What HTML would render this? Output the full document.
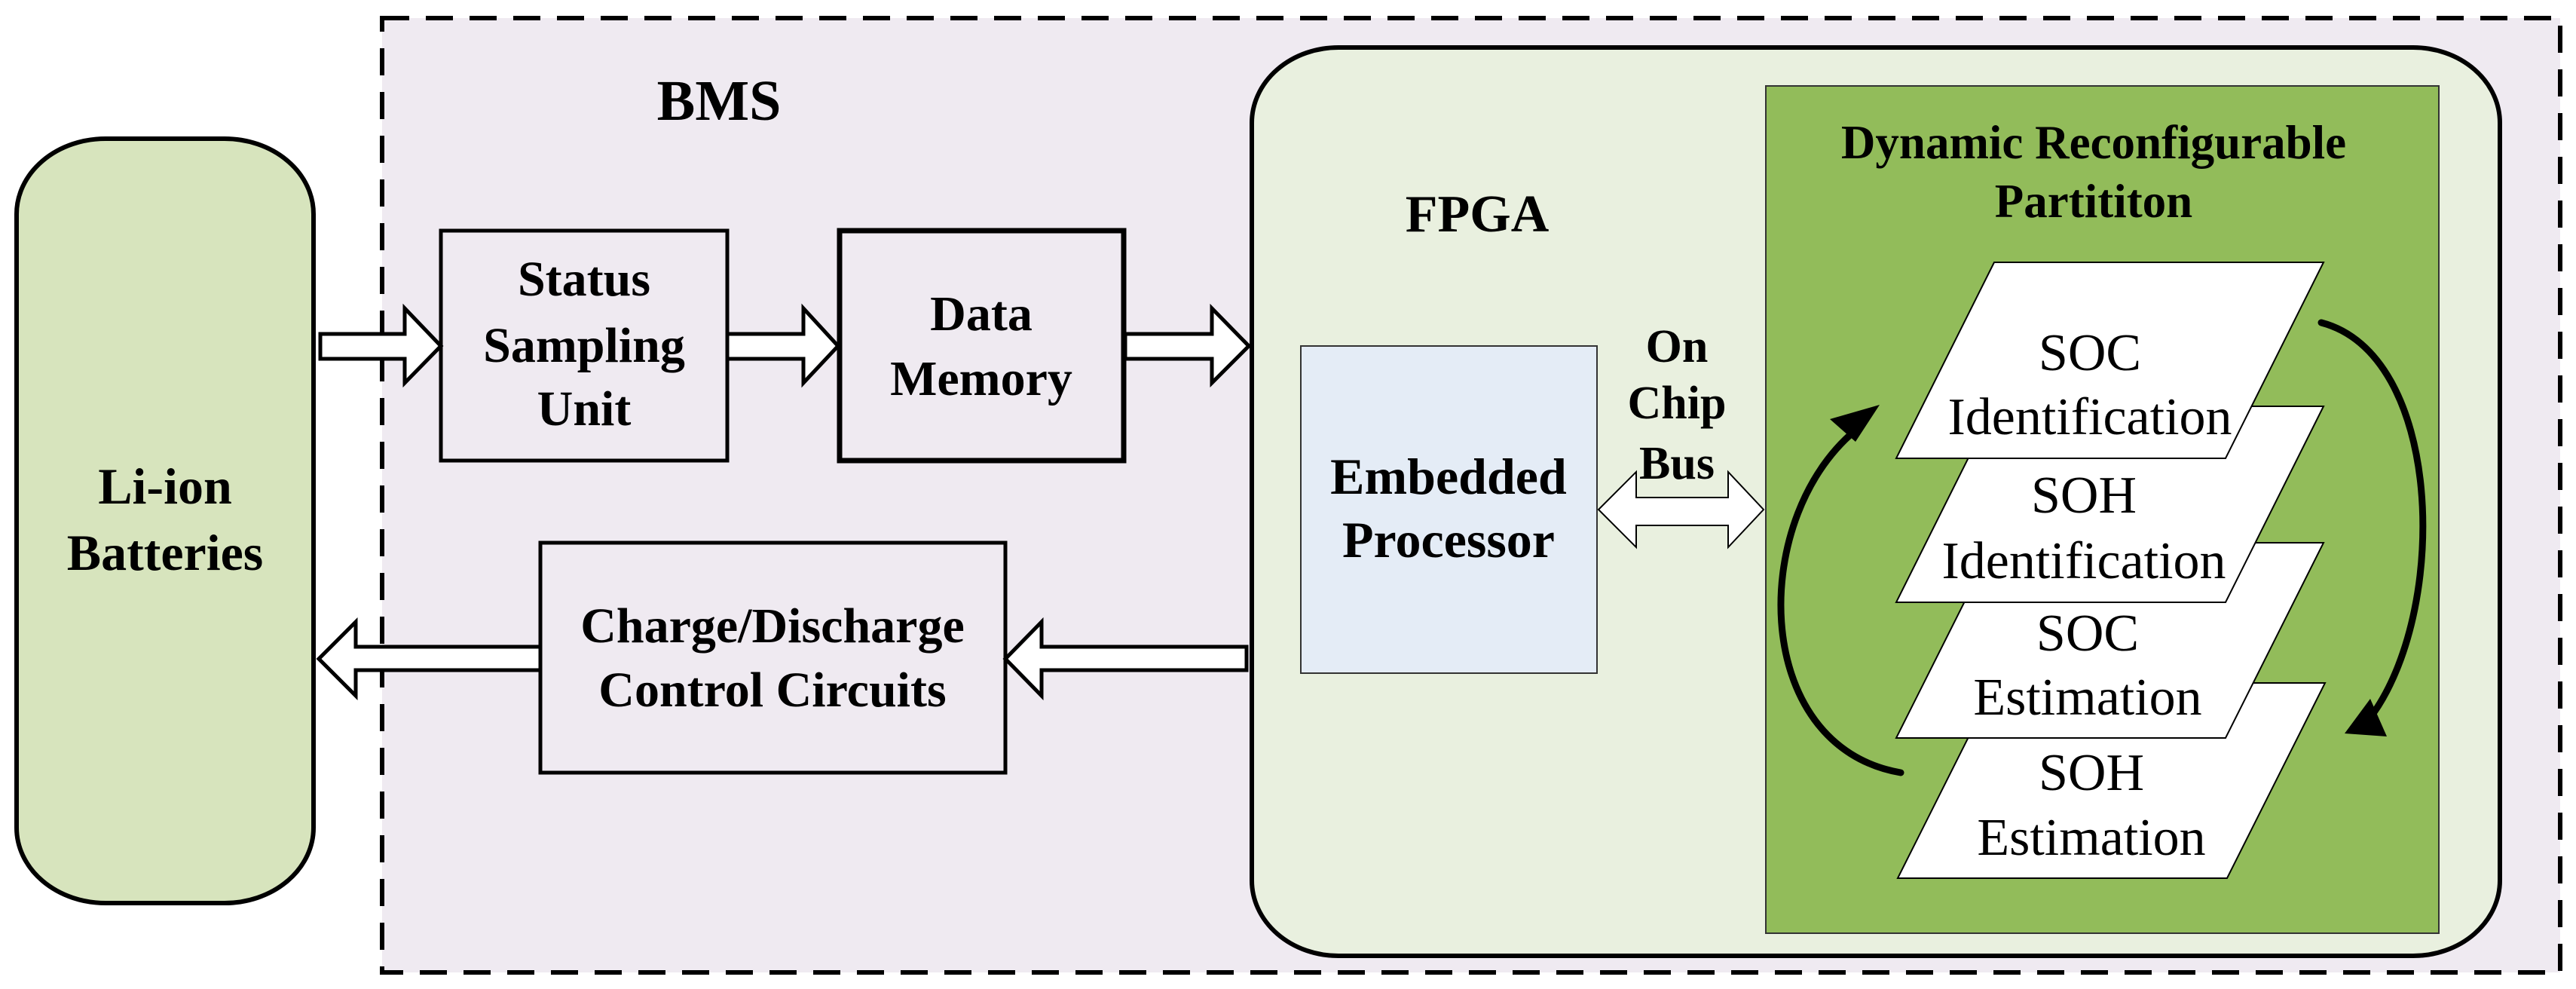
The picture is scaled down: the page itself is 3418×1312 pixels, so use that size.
<!DOCTYPE html>
<html><head><meta charset="utf-8"><style>
html,body{margin:0;padding:0;background:#fff;}
svg{display:block;font-family:"Liberation Serif","DejaVu Serif",serif;}
.b{font-weight:bold;}
</style></head><body>
<svg width="3418" height="1312" viewBox="0 0 3418 1312" xmlns="http://www.w3.org/2000/svg" font-family="Liberation Serif, DejaVu Serif, serif">
<rect x="507" y="24" width="2890" height="1266" fill="#efeaf1" stroke="#000" stroke-width="6" stroke-dasharray="36,22"/>
<rect x="22" y="184" width="394" height="1014" rx="118" ry="100" fill="#d7e4bd" stroke="#000" stroke-width="6"/>
<text class="b" x="219" y="668" font-size="68" text-anchor="middle">Li-ion</text>
<text class="b" x="219" y="756" font-size="68" text-anchor="middle">Batteries</text>
<text class="b" x="954" y="159" font-size="76" text-anchor="middle">BMS</text>
<rect x="585" y="306" width="380" height="305" fill="#efeaf1" stroke="#000" stroke-width="5"/>
<text class="b" x="775" y="392" font-size="66" text-anchor="middle">Status</text>
<text class="b" x="775" y="480" font-size="66" text-anchor="middle">Sampling</text>
<text class="b" x="775" y="564" font-size="66" text-anchor="middle">Unit</text>
<rect x="1114" y="306" width="377" height="305" fill="#efeaf1" stroke="#000" stroke-width="7"/>
<text class="b" x="1302" y="438" font-size="66" text-anchor="middle">Data</text>
<text class="b" x="1302" y="524" font-size="66" text-anchor="middle">Memory</text>
<rect x="717" y="720" width="617" height="305" fill="#efeaf1" stroke="#000" stroke-width="5"/>
<text class="b" x="1025" y="852" font-size="66" text-anchor="middle">Charge/Discharge</text>
<text class="b" x="1025" y="937" font-size="66" text-anchor="middle">Control Circuits</text>
<g fill="#fff" stroke="#000" stroke-width="5" stroke-linejoin="miter">
<polygon points="425,443 537,443 537,409 585,459 537,508 537,476 425,476"/>
<polygon points="965,443 1066,443 1066,409 1112,459 1066,508 1066,476 965,476"/>
<polygon points="1493,443 1608,443 1608,409 1657,459 1608,508 1608,476 1493,476"/>
<polygon points="717,858 472,858 472,825 423,874 472,923 472,889 717,889"/>
<polygon points="1654,858 1382,858 1382,825 1334,874 1382,923 1382,889 1654,889"/>
</g>
<rect x="1661" y="63" width="1656" height="1205" rx="115" ry="100" fill="#e9f0df" stroke="#000" stroke-width="6"/>
<text class="b" x="1960" y="307" font-size="70" text-anchor="middle">FPGA</text>
<rect x="1726" y="459" width="393" height="434" fill="#e4ecf6" stroke="#333" stroke-width="2"/>
<text class="b" x="1922" y="655" font-size="68" text-anchor="middle">Embedded</text>
<text class="b" x="1922" y="739" font-size="68" text-anchor="middle">Processor</text>
<text class="b" x="2225" y="480" font-size="62" text-anchor="middle">On</text>
<text class="b" x="2225" y="555" font-size="62" text-anchor="middle">Chip</text>
<text class="b" x="2225" y="635" font-size="62" text-anchor="middle">Bus</text>
<polygon points="2121,676 2171,626 2171,660 2293,660 2293,626 2340,676 2293,726 2293,697 2171,697 2171,726" fill="#fff" stroke="#000" stroke-width="2"/>
<rect x="2343" y="114" width="893" height="1124" fill="#92bc5a" stroke="#333" stroke-width="2"/>
<text class="b" x="2778" y="210" font-size="63" text-anchor="middle">Dynamic Reconfigurable</text>
<text class="b" x="2778" y="288" font-size="63" text-anchor="middle">Partititon</text>
<g fill="#fff" stroke="#000" stroke-width="2">
<polygon points="2648,906 3085,906 2955,1165 2518,1165"/>
<polygon points="2646,720 3083,720 2953,979 2516,979"/>
<polygon points="2646,539 3083,539 2953,799 2516,799"/>
<polygon points="2646,348 3083,348 2953,608 2516,608"/>
</g>
<g font-size="70" text-anchor="middle">
<text x="2773" y="491">SOC</text>
<text x="2773" y="576">Identification</text>
<text x="2765" y="680">SOH</text>
<text x="2765" y="767">Identification</text>
<text x="2770" y="863">SOC</text>
<text x="2770" y="948">Estimation</text>
<text x="2775" y="1048">SOH</text>
<text x="2775" y="1134">Estimation</text>
</g>
<path d="M2522,1025 C2320,990 2320,680 2468,566" fill="none" stroke="#000" stroke-width="9" stroke-linecap="round"/>
<polygon points="2494,537 2428,556 2462,586" fill="#000"/>
<path d="M3080,428 C3240,470 3250,800 3150,945" fill="none" stroke="#000" stroke-width="9" stroke-linecap="round"/>
<polygon points="3167,977 3111,973 3145,927" fill="#000"/>
</svg>
</body></html>
